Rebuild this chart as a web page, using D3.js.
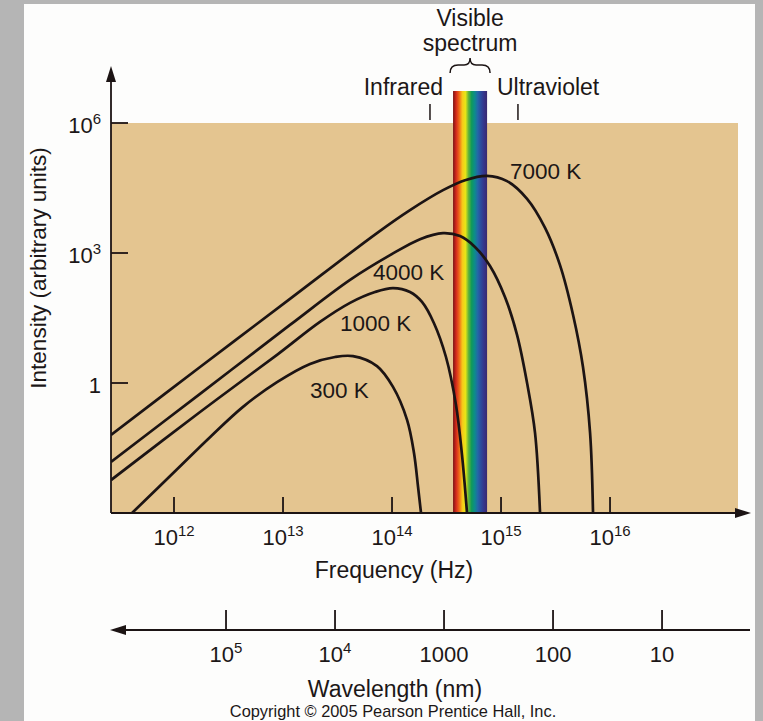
<!DOCTYPE html>
<html>
<head>
<meta charset="utf-8">
<script src="https://cdn.jsdelivr.net/npm/d3@7"></script>
<style>
  body { margin: 0; background: #b5b5b5; }
  svg { display: block; }
  text { font-family: "Liberation Sans", Arial, Helvetica, sans-serif; fill: #1c1717; }
</style>
</head>
<body>
<svg id="chart" width="763" height="721"></svg>
<script>
// points: [log10 frequency (Hz), log10 intensity]
const curve7000 = [[11.422,-1.20],[12.239,0.37],[13.064,1.94],[13.862,3.46],[14.165,3.99],[14.468,4.45],
  [14.670,4.68],[14.872,4.78],[15.055,4.66],[15.239,4.25],[15.404,3.58],[15.541,2.72],[15.661,1.57],
  [15.752,0.37],[15.817,-1.15],[15.844,-3.0]];
const curve4000 = [[11.422,-1.82],[12.239,-0.25],[13.064,1.34],[13.615,2.38],[13.982,2.95],[14.257,3.32],
  [14.468,3.46],[14.624,3.39],[14.761,3.14],[14.899,2.70],[15.037,1.98],[15.147,1.11],[15.239,0.0],
  [15.312,-1.15],[15.358,-3.0]];
const curve1000 = [[11.422,-2.24],[12.239,-0.67],[12.945,0.65],[13.339,1.41],[13.615,1.85],[13.844,2.10],
  [14.009,2.19],[14.165,2.10],[14.275,1.87],[14.385,1.38],[14.495,0.60],[14.587,-0.51],[14.642,-1.66],
  [14.688,-3.0]];
const curve300 = [[11.615,-3.0],[12.028,-1.99],[12.330,-1.25],[12.633,-0.55],[12.945,0.02],[13.248,0.44],
  [13.477,0.60],[13.642,0.62],[13.862,0.39],[14.009,-0.09],[14.138,-0.85],[14.202,-1.62],[14.239,-2.40],
  [14.266,-3.0]];

const curves = [curve7000, curve4000, curve1000, curve300];
const curveNames = ['7000 K', '4000 K', '1000 K', '300 K'];
// where each name starts: [log10 frequency, log10 intensity]
const curveLabelAt = [[15.083, 4.70], [13.826, 2.38], [13.523, 1.20], [13.248, -0.34]];

const freqTicks = [1e12, 1e13, 1e14, 1e15, 1e16];
const freqExps = ['12', '13', '14', '15', '16'];
const intensityTicks = [1e6, 1e3, 1];
const intensityLabels = [['10', '6'], ['10', '3'], ['1', '']];
const waveTicks = [1e5, 1e4, 1000, 100, 10];          // nm
const waveLabels = [['10', '5'], ['10', '4'], ['1000', ''], ['100', ''], ['10', '']];
const visibleBand = [3.63e14, 7.45e14];              // Hz
const irMark = 2.23e14, uvMark = 1.43e15;            // Hz
const lightSpeed = 3e17;                             // nm/s

const rainbow = ['#7a1414', '#d42a1c', '#ee6a18', '#f6c81a', '#e8e616', '#62b43a', '#0f9a5a',
  '#0c8c8c', '#2466a8', '#2c4a9c', '#36348a', '#3a2a6e'];

const svg = d3.select('#chart');
const ink = '#1c1414';

// white sheet on the grey page
svg.append('rect').attr('x', 24).attr('y', 4).attr('width', 731).attr('height', 717).attr('fill', '#fdfdfc');

const x = d3.scaleLog().domain([10 ** 11.422, 10 ** 17.174]).range([111, 738]);
const y = d3.scaleLog().domain([1e-3, 1e6]).range([513, 123]);

// tan plot area
svg.append('rect')
  .attr('x', x.range()[0]).attr('y', y(1e6))
  .attr('width', x.range()[1] - x.range()[0]).attr('height', y(1e-3) - y(1e6))
  .attr('fill', '#e4c590');

// visible spectrum bar
const grad = svg.append('defs').append('linearGradient').attr('id', 'rainbow')
  .attr('x1', '0%').attr('x2', '100%').attr('y1', '0%').attr('y2', '0%');
grad.selectAll('stop').data(rainbow).join('stop')
  .attr('offset', (d, i) => (i / (rainbow.length - 1) * 100) + '%')
  .attr('stop-color', d => d);
svg.append('rect')
  .attr('x', x(visibleBand[0])).attr('y', y(1e6) - 32)
  .attr('width', x(visibleBand[1]) - x(visibleBand[0])).attr('height', y(1e-3) - y(1e6) + 32)
  .attr('fill', 'url(#rainbow)');

// curves
const line = d3.line()
  .x(d => x(10 ** d[0]))
  .y(d => y(10 ** d[1]))
  .curve(d3.curveCatmullRom.alpha(0.5));
svg.append('defs').append('clipPath').attr('id', 'plotClip').append('rect')
  .attr('x', 111).attr('y', 0).attr('width', 640).attr('height', 513);
svg.append('g').attr('clip-path', 'url(#plotClip)')
  .selectAll('path').data(curves).join('path')
  .attr('d', line)
  .attr('fill', 'none').attr('stroke', ink).attr('stroke-width', 2.7);

svg.append('g').selectAll('text').data(curveNames).join('text')
  .attr('x', (d, i) => x(10 ** curveLabelAt[i][0]))
  .attr('y', (d, i) => y(10 ** curveLabelAt[i][1]))
  .attr('font-size', 22.5)
  .text(d => d);

// axes
const axisG = svg.append('g').attr('stroke', ink).attr('stroke-width', 1.8);
axisG.append('line').attr('x1', 111).attr('x2', 111).attr('y1', 513).attr('y2', 78);
axisG.append('line').attr('x1', 111).attr('x2', 740).attr('y1', 513).attr('y2', 513);
axisG.append('line').attr('x1', 120).attr('x2', 750).attr('y1', 630).attr('y2', 630);
svg.append('path').attr('d', 'M111,66 L106,82 L116,82 Z').attr('fill', ink);
svg.append('path').attr('d', 'M751,513 L735,508 L735,518 Z').attr('fill', ink);
svg.append('path').attr('d', 'M110,630 L126,625 L126,635 Z').attr('fill', ink);

// frequency ticks
axisG.selectAll('.ft').data(freqTicks).join('line')
  .attr('x1', d => x(d)).attr('x2', d => x(d)).attr('y1', 513).attr('y2', 497);
const fl = svg.append('g').selectAll('text').data(freqTicks).join('text')
  .attr('x', d => x(d)).attr('y', 545).attr('text-anchor', 'middle').attr('font-size', 22);
fl.append('tspan').text('10');
fl.append('tspan').attr('dy', -9).attr('font-size', 15).text((d, i) => freqExps[i]);

// intensity ticks
axisG.selectAll('.it').data(intensityTicks).join('line')
  .attr('x1', 111).attr('x2', 128).attr('y1', d => y(d)).attr('y2', d => y(d));
const il = svg.append('g').selectAll('text').data(intensityTicks).join('text')
  .attr('x', 101).attr('y', d => y(d) + 10).attr('text-anchor', 'end').attr('font-size', 22);
il.append('tspan').text((d, i) => intensityLabels[i][0]);
il.append('tspan').attr('dy', -9).attr('font-size', 15).text((d, i) => intensityLabels[i][1]);

// wavelength ticks share the frequency scale: f = c / lambda
axisG.selectAll('.wt').data(waveTicks).join('line')
  .attr('x1', d => x(lightSpeed / d)).attr('x2', d => x(lightSpeed / d)).attr('y1', 630).attr('y2', 610);
const wl = svg.append('g').selectAll('text').data(waveTicks).join('text')
  .attr('x', d => x(lightSpeed / d)).attr('y', 662).attr('text-anchor', 'middle').attr('font-size', 22);
wl.append('tspan').text((d, i) => waveLabels[i][0]);
wl.append('tspan').attr('dy', -9).attr('font-size', 15).text((d, i) => waveLabels[i][1]);

// infrared / ultraviolet marks
axisG.selectAll('.mk').data([irMark, uvMark]).join('line')
  .attr('x1', d => x(d)).attr('x2', d => x(d)).attr('y1', 104).attr('y2', 120).attr('stroke-width', 1.5);
svg.append('text').attr('x', 443).attr('y', 95).attr('text-anchor', 'end').attr('font-size', 23).text('Infrared');
svg.append('text').attr('x', 497).attr('y', 95).attr('font-size', 23).text('Ultraviolet');

// brace and visible spectrum title
const bx = (x(visibleBand[0]) + x(visibleBand[1])) / 2;
svg.append('path')
  .attr('d', `M${bx - 20},73 Q${bx - 20},65 ${bx - 12},65 L${bx - 6},65 Q${bx},65 ${bx},58 Q${bx},65 ${bx + 6},65 L${bx + 12},65 Q${bx + 20},65 ${bx + 20},73`)
  .attr('fill', 'none').attr('stroke', ink).attr('stroke-width', 1.5);
svg.append('text').attr('x', bx).attr('y', 26).attr('text-anchor', 'middle').attr('font-size', 23).text('Visible');
svg.append('text').attr('x', bx).attr('y', 51).attr('text-anchor', 'middle').attr('font-size', 23).text('spectrum');

// axis titles
svg.append('text').attr('x', 394).attr('y', 578).attr('text-anchor', 'middle').attr('font-size', 23).text('Frequency (Hz)');
svg.append('text').attr('x', 395).attr('y', 697).attr('text-anchor', 'middle').attr('font-size', 23).text('Wavelength (nm)');
svg.append('text').attr('transform', 'translate(46,268) rotate(-90)').attr('text-anchor', 'middle')
  .attr('font-size', 22.5).text('Intensity (arbitrary units)');
svg.append('text').attr('x', 393).attr('y', 717).attr('text-anchor', 'middle').attr('font-size', 16.4)
  .text('Copyright © 2005 Pearson Prentice Hall, Inc.');
</script>
</body>
</html>
